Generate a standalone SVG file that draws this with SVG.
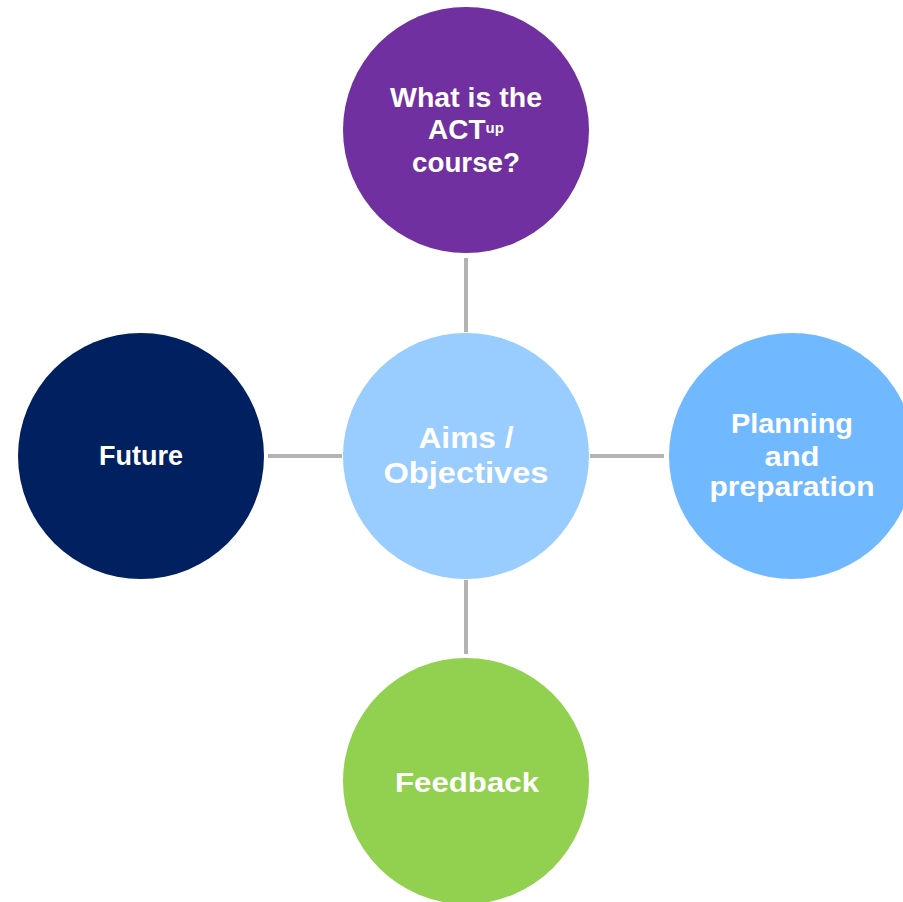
<svg xmlns="http://www.w3.org/2000/svg" width="903" height="902" viewBox="0 0 903 902">
<style>
.conn{stroke:#b3b3b3;stroke-width:4;fill:none}
.lbl{font-family:"Liberation Sans",Arial,sans-serif;font-weight:bold;fill:#ffffff;text-anchor:middle;font-size:28px}
</style>
<rect width="903" height="902" fill="#ffffff"/>
<g id="connectors">
<line class="conn" x1="466" y1="258" x2="466" y2="332"/>
<line class="conn" x1="466" y1="580" x2="466" y2="654"/>
<line class="conn" x1="268" y1="456" x2="342" y2="456"/>
<line class="conn" x1="590" y1="456" x2="664" y2="456"/>
</g>
<g id="node-top">
<circle cx="466" cy="130" r="123" fill="#7030a0"/>
<text class="lbl" x="466" y="107" textLength="152" lengthAdjust="spacingAndGlyphs">What is the</text>
<text class="lbl" x="466" y="139">ACT<tspan font-size="15" dy="-6">up</tspan></text>
<text class="lbl" x="466" y="172" textLength="108" lengthAdjust="spacingAndGlyphs">course?</text>
</g>
<g id="node-center">
<circle cx="466" cy="456" r="123" fill="#99ccff"/>
<text class="lbl" x="466" y="448" font-size="30" style="font-size:30px" textLength="95" lengthAdjust="spacingAndGlyphs">Aims /</text>
<text class="lbl" x="466" y="483" style="font-size:30px" textLength="165" lengthAdjust="spacingAndGlyphs">Objectives</text>
</g>
<g id="node-right">
<circle cx="792" cy="456" r="123" fill="#70b8ff"/>
<text class="lbl" x="792" y="433" textLength="122" lengthAdjust="spacingAndGlyphs">Planning</text>
<text class="lbl" x="792" y="466" textLength="55" lengthAdjust="spacingAndGlyphs">and</text>
<text class="lbl" x="792" y="496" textLength="165" lengthAdjust="spacingAndGlyphs">preparation</text>
</g>
<g id="node-left">
<circle cx="141" cy="456" r="123" fill="#002060"/>
<text class="lbl" x="141" y="465" textLength="84" lengthAdjust="spacingAndGlyphs">Future</text>
</g>
<g id="node-bottom">
<circle cx="466" cy="781" r="123" fill="#92d050"/>
<text class="lbl" x="467" y="792" textLength="144" lengthAdjust="spacingAndGlyphs">Feedback</text>
</g>
</svg>
